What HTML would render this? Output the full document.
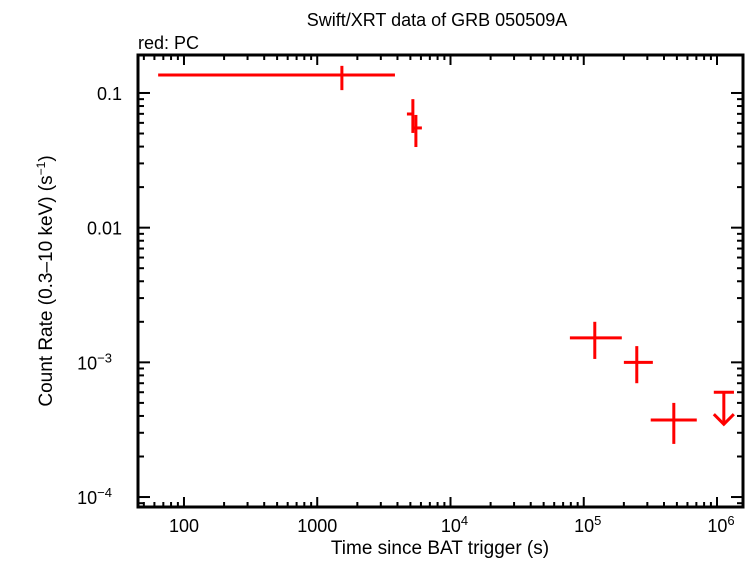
<!DOCTYPE html>
<html><head><meta charset="utf-8"><style>
body{margin:0;background:#fff;}
svg text{font-family:"Liberation Sans",sans-serif;fill:#000;}
</style></head><body>
<svg id="chart" width="747" height="558" xmlns="http://www.w3.org/2000/svg">
<text x="437" y="26" font-size="18" text-anchor="middle">Swift/XRT data of GRB 050509A</text>
<text x="138" y="49" font-size="18">red: PC</text>
<text x="440" y="554" font-size="19" text-anchor="middle">Time since BAT trigger (s)</text>
<text transform="translate(52,281) rotate(-90)" font-size="19" text-anchor="middle">Count Rate (0.3–10 keV) (s<tspan dy="-7" font-size="12">−1</tspan><tspan dy="7">)</tspan></text>
<g id="ticks"></g>
<g id="marks"></g>
<rect x="138" y="55" width="605" height="452" fill="none" stroke="#000" stroke-width="3"/>
</svg>
<script>
const times=[1531,5220,5500,121000,250000,474000];
const timeLo=[64,4710,5220,78700,200000,318000];
const timeHi=[3830,5220,6100,193000,330000,705000];
const rates=[0.136,0.0698,0.055,1.52e-3,1.0e-3,3.73e-4];
const rateLo=[0.105,0.0505,0.0397,1.06e-3,7.0e-4,2.48e-4];
const rateHi=[0.159,0.090,0.0687,2.0e-3,1.32e-3,5.0e-4];
const ulTime=[1.125e6];
const ulTimeLo=[946000];
const ulTimeHi=[1.34e6];
const ulRate=[6.0e-4];
const xTickLabels=["100","1000","10^4","10^5","10^6"];
const xTickValues=[100,1000,1e4,1e5,1e6];
const yTickLabels=["0.1","0.01","10^-3","10^-4"];
const yTickValues=[0.1,0.01,1e-3,1e-4];

const L=138,R=743,T=55,B=507;
const xmin=1.655,xmax=6.195,ymin=-4.074,ymax=-0.718;
function X(v){return L+(Math.log10(v)-xmin)/(xmax-xmin)*(R-L);}
function Y(v){return B-(Math.log10(v)-ymin)/(ymax-ymin)*(B-T);}
const NS="http://www.w3.org/2000/svg";
function mk(tag,attrs,parent){const e=document.createElementNS(NS,tag);for(const k in attrs)e.setAttribute(k,attrs[k]);parent.appendChild(e);return e;}
const tg=document.getElementById('ticks'),mg=document.getElementById('marks');
function line(x1,y1,x2,y2,p,c,w){return mk('line',{x1,y1,x2,y2,stroke:c||'#000','stroke-width':w||2},p);}
for(let d=1;d<=6;d++){for(let m=1;m<10;m++){const v=m*Math.pow(10,d);const x=X(v);if(x<L||x>R)continue;const len=m===1?10:5;
const t1=line(x,B,x,B-len,tg);
const t2=line(x,T,x,T+len,tg);}}
for(let e=-5;e<=0;e++){for(let m=1;m<10;m++){const v=m*Math.pow(10,e);const y=Y(v);if(y<T||y>B)continue;const len=m===1?12:6;
const t1=line(L,y,L+len,y,tg);
const t2=line(R,y,R-len,y,tg);}}
function lbl(s,x,y,anchor,name){const t=mk('text',{x,y,'font-size':18,'text-anchor':anchor},tg);
if(s.indexOf('^')>=0){const [b,ex]=s.split('^');t.textContent=b;const sp=mk('tspan',{dy:-7,'font-size':13},t);sp.textContent=ex.replace('-','−');}else t.textContent=s;return t;}
xTickValues.forEach((v,i)=>{lbl(xTickLabels[i],X(v)+(xTickLabels[i].includes('^')?4:0),532,'middle','x-tick-label');});
yTickValues.forEach((v,i)=>{lbl(yTickLabels[i],yTickLabels[i].includes('^')?112:122,Y(v)+7,'end','y-tick-label');});
const red='#ff0000';
times.forEach((t,i)=>{const g=mk('g',{},mg);
line(X(timeLo[i]),Y(rates[i]),X(timeHi[i]),Y(rates[i]),g,red,3);
line(X(t),Y(rateLo[i]),X(t),Y(rateHi[i]),g,red,3);});
ulTime.forEach((t,i)=>{const g=mk('g',{},mg);
const y=Y(ulRate[i]),x=X(t);
line(X(ulTimeLo[i]),y,X(ulTimeHi[i]),y,g,red,3);
line(x,y,x,y+32,g,red,3);
mk('polyline',{points:`${x-10},${y+22} ${x},${y+32} ${x+10},${y+22}`,fill:'none',stroke:red,'stroke-width':3},g);});
</script>
</body></html>
